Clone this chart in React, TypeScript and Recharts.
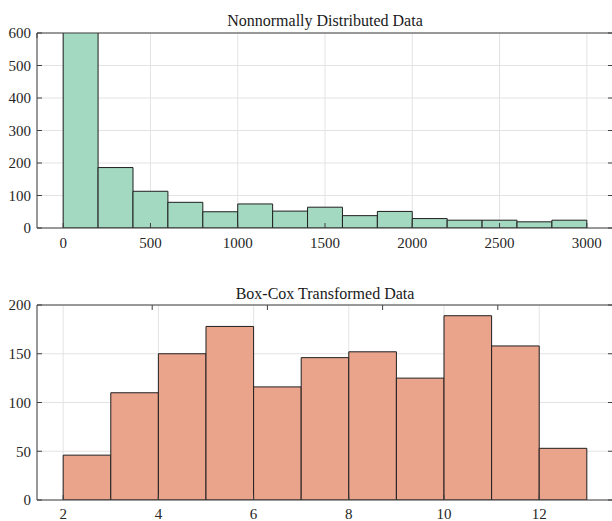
import React from "react";
import {
  ComposedChart,
  XAxis,
  YAxis,
  CartesianGrid,
  ReferenceArea,
} from "recharts";

// top histogram: bin edges 0..3000, width 200
const rawBinStarts = [0, 200, 400, 600, 800, 1000, 1200, 1400, 1600, 1800, 2000, 2200, 2400, 2600, 2800];
const rawCounts = [680, 186, 113, 79, 50, 74, 52, 64, 38, 51, 29, 24, 24, 19, 24];
const rawBinWidth = 200;
const rawXTicks = [0, 500, 1000, 1500, 2000, 2500, 3000];
const rawYTicks = [0, 100, 200, 300, 400, 500, 600];

// bottom histogram: bin edges 2..13, width 1
const bcBinStarts = [2, 3, 4, 5, 6, 7, 8, 9, 10, 11, 12];
const bcCounts = [46, 110, 150, 178, 116, 146, 152, 125, 189, 158, 53];
const bcBinWidth = 1;
const bcXTicks = [2, 4, 6, 8, 10, 12];
const bcYTicks = [0, 50, 100, 150, 200];

const FONT = "Liberation Serif, Times New Roman, serif";
const tickStyle = { fontSize: 15, fill: "#262626", fontFamily: FONT };
const axisColor = "#404040";
const blank = () => "";

interface HistProps {
  starts: number[];
  counts: number[];
  binWidth: number;
  xTicks: number[];
  yTicks: number[];
  xDomain: [number, number];
  yDomain: [number, number];
  fill: string;
  xTickMargin: number;
}

const Histogram: React.FC<HistProps> = ({
  starts,
  counts,
  binWidth,
  xTicks,
  yTicks,
  xDomain,
  yDomain,
  fill,
  xTickMargin,
}) => {
  const data = starts.map((s, i) => ({ x: s + binWidth / 2, count: counts[i] }));
  return (
    <ComposedChart
      width={640}
      height={263}
      data={data}
      margin={{ top: 0, right: 0, bottom: 0, left: 0 }}
      style={{ fontFamily: FONT }}
    >
      <CartesianGrid stroke="#e3e3e3" />
      <XAxis
        dataKey="x"
        type="number"
        domain={xDomain}
        ticks={xTicks}
        allowDataOverflow
        height={35}
        stroke={axisColor}
        tickSize={-5}
        tickMargin={xTickMargin}
        tick={tickStyle}
      />
      <XAxis
        xAxisId="top"
        orientation="top"
        type="number"
        domain={xDomain}
        ticks={xTicks}
        allowDataOverflow
        height={33}
        stroke={axisColor}
        tickSize={-5}
        tickFormatter={blank}
      />
      <YAxis
        type="number"
        domain={yDomain}
        ticks={yTicks}
        allowDataOverflow
        width={37}
        stroke={axisColor}
        tickSize={-5}
        tickMargin={11}
        tick={tickStyle}
      />
      <YAxis
        yAxisId="right"
        orientation="right"
        type="number"
        domain={yDomain}
        ticks={yTicks}
        allowDataOverflow
        width={27}
        stroke={axisColor}
        tickSize={-5}
        tickFormatter={blank}
      />
      {starts.map((s, i) => (
        <ReferenceArea
          key={s}
          x1={s}
          x2={s + binWidth}
          y1={0}
          y2={counts[i]}
          ifOverflow="hidden"
          fill={fill}
          fillOpacity={1}
          stroke="#1f1f1f"
          strokeWidth={1}
          strokeOpacity={1}
        />
      ))}
    </ComposedChart>
  );
};

const titleStyle: React.CSSProperties = {
  position: "absolute",
  left: 37,
  width: 576,
  textAlign: "center",
  fontSize: 16,
  lineHeight: "16px",
  color: "#1a1a1a",
};

export default function App() {
  return (
    <div
      style={{
        position: "absolute",
        left: 0,
        top: 0,
        width: 612,
        height: 521,
        overflow: "hidden",
        background: "#fff",
        fontFamily: FONT,
      }}
    >
      <div style={{ ...titleStyle, top: 13 }}>Nonnormally Distributed Data</div>
      <div style={{ position: "absolute", left: 0, top: 0 }}>
        <Histogram
          starts={rawBinStarts}
          counts={rawCounts}
          binWidth={rawBinWidth}
          xTicks={rawXTicks}
          yTicks={rawYTicks}
          xDomain={[-150, 3150]}
          yDomain={[0, 600]}
          fill="#a3d8c1"
          xTickMargin={14}
        />
      </div>
      <div style={{ ...titleStyle, top: 286 }}>Box-Cox Transformed Data</div>
      <div style={{ position: "absolute", left: 0, top: 272 }}>
        <Histogram
          starts={bcBinStarts}
          counts={bcCounts}
          binWidth={bcBinWidth}
          xTicks={bcXTicks}
          yTicks={bcYTicks}
          xDomain={[1.45, 13.55]}
          yDomain={[0, 200]}
          fill="#eba48c"
          xTickMargin={13}
        />
      </div>
    </div>
  );
}
